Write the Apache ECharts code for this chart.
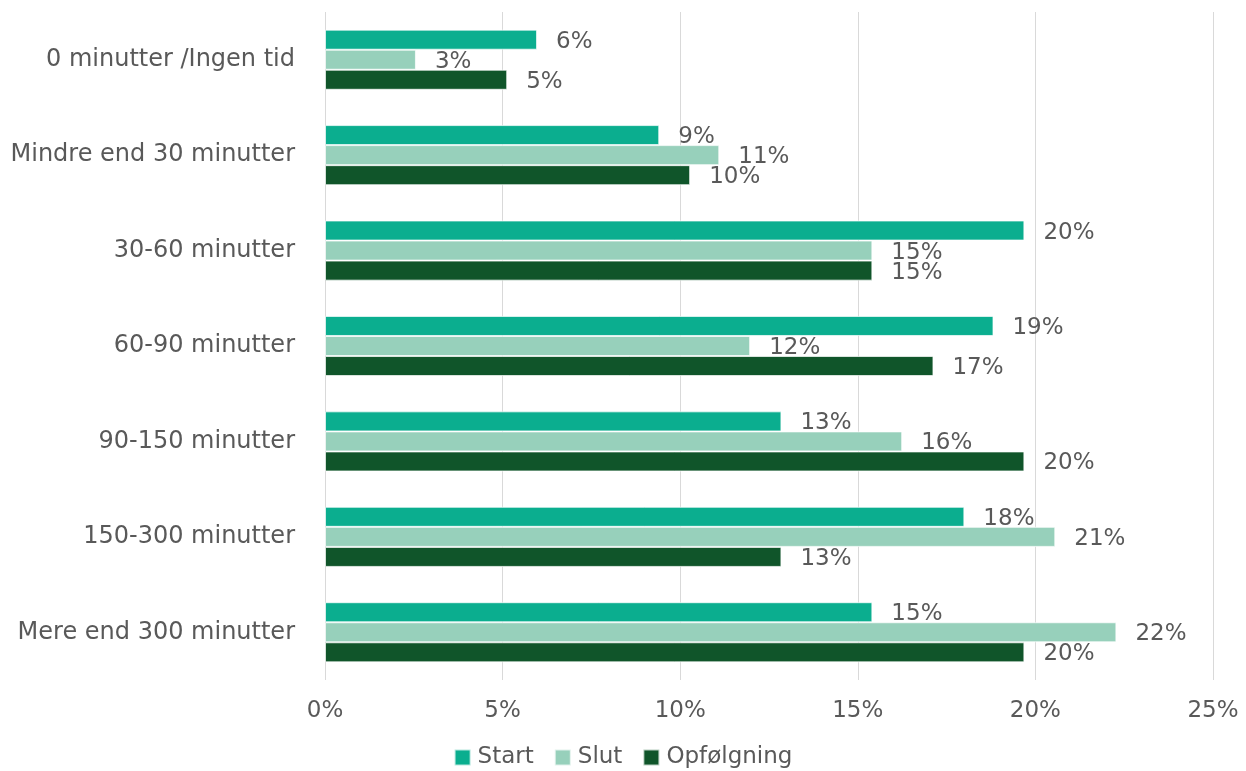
<!DOCTYPE html>
<html>
<head>
<meta charset="utf-8">
<script src="https://cdn.jsdelivr.net/npm/echarts@6/dist/echarts.min.js"></script>
<style>
  html, body { margin: 0; padding: 0; background: #ffffff; }
  #chart { width: 1246px; height: 771px; }
</style>
</head>
<body>
<div id="chart"></div>
<script>
// Time spent, share of respondents (%) per answer category
const categories = [
  '0 minutter /Ingen tid',
  'Mindre end 30 minutter',
  '30-60 minutter',
  '60-90 minutter',
  '90-150 minutter',
  '150-300 minutter',
  'Mere end 300 minutter'
];
const startValues = [5.97, 9.41, 19.69, 18.82, 12.85, 18.0, 15.41];
const slutValues = [2.56, 11.1, 15.41, 11.97, 16.25, 20.56, 22.28];
const opfoelgningValues = [5.13, 10.28, 15.41, 17.13, 19.69, 12.85, 19.69];
const xTicks = [0, 5, 10, 15, 20, 25];

const seriesDefs = [
  { name: 'Start', data: startValues, color: '#0bae8f' },
  { name: 'Slut', data: slutValues, color: '#97d0bb' },
  { name: 'Opfølgning', data: opfoelgningValues, color: '#10552a' }
];

const font = '"DejaVu Sans", "Open Sans", sans-serif';
const textColor = '#595959';

const chart = echarts.init(document.getElementById('chart'), null, { renderer: 'canvas' });

chart.setOption({
  animation: false,
  backgroundColor: '#ffffff',
  grid: { left: 325, right: 33, top: 12, bottom: 91, containLabel: false },
  legend: {
    top: 746,
    left: 'center',
    padding: 0,
    itemWidth: 16,
    itemHeight: 16,
    itemGap: 20,
    icon: 'rect',
    textStyle: { fontFamily: font, fontSize: 23, color: textColor, padding: [0, 0, 0, 2] },
    data: seriesDefs.map(s => s.name)
  },
  xAxis: {
    type: 'value',
    min: xTicks[0],
    max: xTicks[xTicks.length - 1],
    interval: 5,
    axisLine: { show: false },
    axisTick: { show: false },
    splitLine: { show: true, lineStyle: { color: '#d9d9d9', width: 1 } },
    axisLabel: {
      margin: 20,
      fontFamily: font,
      fontSize: 23,
      color: textColor,
      formatter: v => v + '%'
    }
  },
  yAxis: {
    type: 'category',
    data: categories,
    inverse: true,
    axisLine: { show: false },
    axisTick: { show: false },
    axisLabel: {
      margin: 30,
      fontFamily: font,
      fontSize: 24,
      color: textColor
    }
  },
  series: seriesDefs.map(s => ({
    name: s.name,
    type: 'bar',
    data: s.data,
    barGap: '0%',
    barCategoryGap: '37%',
    itemStyle: { color: s.color, borderColor: 'rgba(255,255,255,0.7)', borderWidth: 1 },
    label: {
      show: true,
      position: 'right',
      distance: 19,
      offset: [0, 2],
      fontFamily: font,
      fontSize: 23,
      color: textColor,
      formatter: p => Math.round(p.value) + '%'
    }
  }))
});
</script>
</body>
</html>
